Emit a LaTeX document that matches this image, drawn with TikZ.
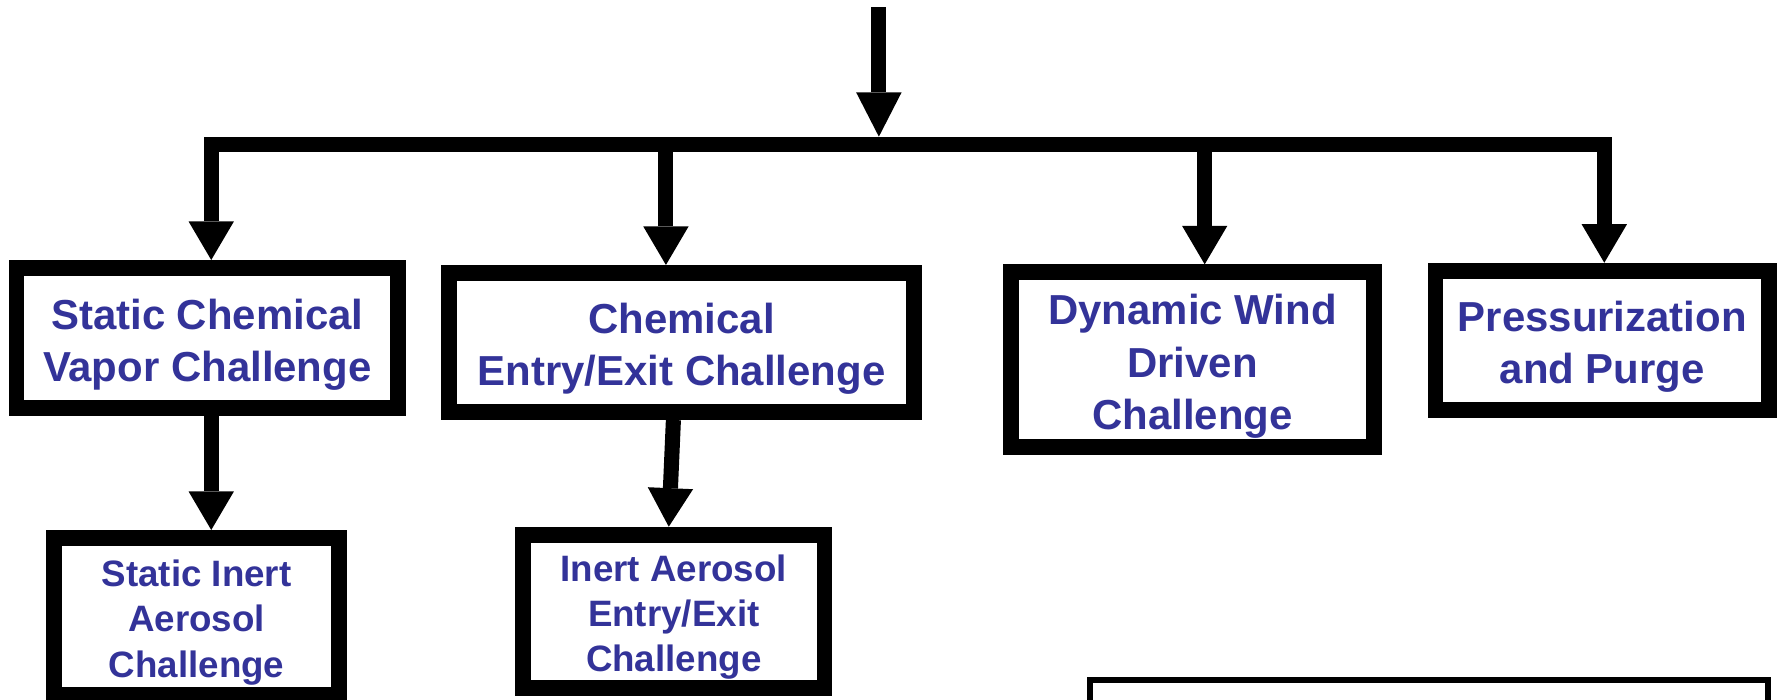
\documentclass[tikz,border=0pt]{standalone}
\usepackage{fontspec}
\setmainfont{Liberation Sans}
\usetikzlibrary{arrows.meta}
\definecolor{labelblue}{RGB}{51,51,153}
% extra room above the first text line of a box
\newcommand\tpad{\rule{0pt}{1.04em}}
\begin{document}
\begin{tikzpicture}[x=1pt,y=-1pt,
  box/.style={draw=black, line width=14pt, fill=white, inner sep=0pt, outer sep=7pt,
    align=center, text=labelblue, font=\bfseries\fontsize{37}{46}\selectfont},
  smallbox/.style={box, font=\bfseries\fontsize{32.4}{40}\selectfont},
  conn/.style={line width=13.3pt, line join=miter,
    -{Triangle[width=40pt,length=34pt,line width=0pt]}},
]
\useasboundingbox (0,0) rectangle (1568,617);

% first row of challenge boxes
\node[box, minimum width=336.6pt, minimum height=123.4pt] (b1) at (182.9,298.1)
  {\tpad Static Chemical\\Vapor Challenge};
\node[box, minimum width=410.8pt, minimum height=122.8pt] (b2) at (601.4,302.2)
  {\tpad Chemical\\Entry/Exit Challenge};
\node[box, minimum width=320.9pt, minimum height=154.3pt] (b3) at (1052.2,317.4)
  {\tpad Dynamic Wind\\Driven\\Challenge};
\node[box, minimum width=294.4pt, minimum height=123.3pt] (b4) at (1413.8,300.5)
  {\tpad Pressurization\\and Purge};

% second row
\node[smallbox, minimum width=252pt, minimum height=138.7pt] (b5) at (173.5,544)
  {\tpad Static Inert\\Aerosol\\Challenge};
\node[smallbox, minimum width=266.1pt, minimum height=135.1pt] (b6) at (594.5,539.3)
  {\tpad Inert Aerosol\\Entry/Exit\\Challenge};

% thin frame at the lower right
\node[draw=black, line width=5.5pt, fill=white, inner sep=0pt, outer sep=0pt,
  minimum width=598pt, minimum height=100.25pt] (b7) at (1260.95,649.9) {};

% incoming arrow and distribution bar
\coordinate (top) at (775.5,6.5);
\coordinate (split) at (775.5,127.4);
\draw[conn, -{Triangle[width=40pt,length=39pt,line width=0pt]}, shorten >=6.8pt]
  (top) -- (split);
\draw[conn] (split) -| ([xshift=3.5pt]b1.north);
\draw[conn] (split) -| ([xshift=-13.8pt]b2.north);
\draw[conn] (split) -| ([xshift=10.8pt]b3.north);
\draw[conn] (split) -| ([xshift=1.8pt]b4.north);

% arrows to the second row
\draw[conn] ([xshift=3.5pt]b1.south) -- ([xshift=12.9pt]b5.north);
\draw[conn] ([xshift=-7.2pt]b2.south) -- ([xshift=-4.4pt]b6.north);
\end{tikzpicture}
\end{document}
